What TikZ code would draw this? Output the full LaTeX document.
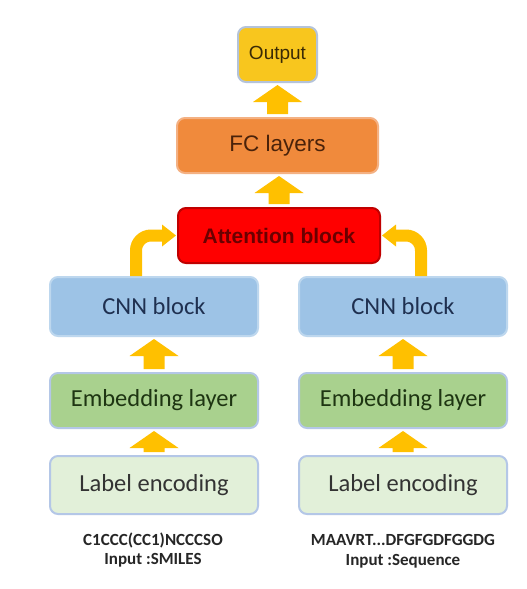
\documentclass[tikz,border=0pt]{standalone}
\usepackage{fontspec}
\newfontfamily\arialf{Liberation Sans}
\newfontfamily\calf{Carlito}
\usetikzlibrary{calc}
\definecolor{arrowc}{HTML}{FFC000}
\definecolor{outfill}{HTML}{F8C61E}
\definecolor{outline}{HTML}{B4C3DA}
\definecolor{fcfill}{HTML}{F08A3C}
\definecolor{fcline}{HTML}{F4B183}
\definecolor{attfill}{HTML}{FF0000}
\definecolor{attline}{HTML}{C00000}
\definecolor{cnnfill}{HTML}{9DC3E6}
\definecolor{cnnline}{HTML}{BDD7EE}
\definecolor{embfill}{HTML}{A9D18E}
\definecolor{embline}{HTML}{B4C7E7}
\definecolor{labfill}{HTML}{E2F0D9}
\definecolor{labline}{HTML}{B4C7E7}
\definecolor{cnntext}{HTML}{1F3050}
\definecolor{embtext}{HTML}{1E3512}
\definecolor{outtext}{HTML}{3A2A05}
\definecolor{fctext}{HTML}{4A220A}
\definecolor{atttext}{HTML}{6A0000}
\newcommand\uparr[2]{%
  \fill[arrowc] let \p1=(#1.north), \p2=(#2.south) in
    (\x1-10.5pt,\y1+3pt) -- (\x1-10.5pt,\y2-19pt) -- (\x1-24.5pt,\y2-19pt)
    -- (\x1,\y2-2pt) -- (\x1+24.5pt,\y2-19pt) -- (\x1+10.5pt,\y2-19pt)
    -- (\x1+10.5pt,\y1+3pt) -- cycle;}
\begin{document}
\begin{tikzpicture}[x=1pt,y=-1pt,
  box/.style={rectangle,rounded corners=8pt,line width=2pt,inner sep=0pt},
  topbox/.style={box,font=\arialf},
  lowbox/.style={box,font=\calf\fontsize{24.5}{27}\selectfont,minimum width=208pt},
  elbow/.style={draw=arrowc,line width=12pt,rounded corners=15pt},
  caption/.style={font=\calf\bfseries\fontsize{17}{19}\selectfont,text=black!85,inner sep=0pt}]
\useasboundingbox (0,0) rectangle (527,589);
\fill[white] (0,0) rectangle (527,589);

\node[topbox,fill=outfill,draw=outline,minimum width=79pt,minimum height=55pt,
  font=\arialf\fontsize{19}{22}\selectfont,text=outtext] (out) at (277.5,54.5) {Output};
\node[topbox,fill=fcfill,draw=fcline,minimum width=201pt,minimum height=55pt,
  font=\arialf\fontsize{22.5}{25}\selectfont,text=fctext] (fc) at (277.5,145.5) {FC layers};
\node[topbox,fill=attfill,draw=attline,minimum width=202pt,minimum height=55pt,
  font=\arialf\bfseries\fontsize{21}{24}\selectfont,text=atttext] (att) at (279,235.5) {Attention block};

\node[lowbox,fill=cnnfill,draw=cnnline,minimum height=59pt,text=cnntext] (cnnL) at (154,306.5) {CNN block};
\node[lowbox,fill=embfill,draw=embline,minimum height=55pt,text=embtext] (embL) at (154,400.5) {Embedding layer};
\node[lowbox,fill=labfill,draw=labline,minimum height=58pt,text=black!80] (labL) at (154,485) {Label encoding};

\node[lowbox,fill=cnnfill,draw=cnnline,minimum height=59pt,text=cnntext] (cnnR) at (403,306.5) {CNN block};
\node[lowbox,fill=embfill,draw=embline,minimum height=55pt,text=embtext] (embR) at (403,400.5) {Embedding layer};
\node[lowbox,fill=labfill,draw=labline,minimum height=58pt,text=black!80] (labR) at (403,485) {Label encoding};

\node[caption] (smi) at (153,540) {C1CCC(CC1)NCCCSO};
\node[caption] (smiin) at (153,560) {Input :SMILES};
\node[caption] (seq) at (403,540) {MAAVRT...DFGFGDFGGDG};
\node[caption] (seqin) at (403,561) {Input :Sequence};

\uparr{fc}{out}
\uparr{att}{fc}
\uparr{embL}{cnnL}
\uparr{labL}{embL}
\uparr{embR}{cnnR}
\uparr{labR}{embR}

\draw[elbow] ([xshift=-18pt]cnnL.north) |- ([xshift=-14pt]att.west);
\fill[arrowc] ([xshift=-1pt]att.west) -- ++(-14,-11) -- ++(0,22) -- cycle;
\draw[elbow] ([xshift=18pt]cnnR.north) |- ([xshift=14pt]att.east);
\fill[arrowc] ([xshift=1pt]att.east) -- ++(14,-11) -- ++(0,22) -- cycle;
\end{tikzpicture}
\end{document}
